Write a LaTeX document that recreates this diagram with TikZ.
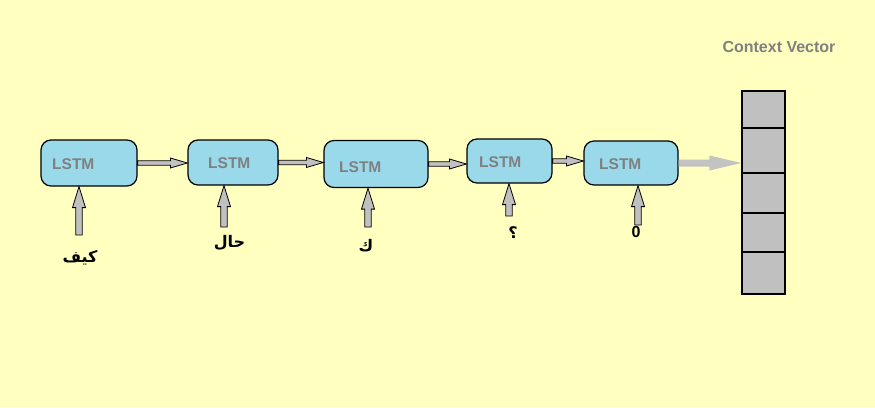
\documentclass[tikz,border=0pt]{standalone}
\usepackage{fontspec}
\setmainfont{Liberation Sans}
\newfontfamily\arabicfont[Script=Arabic]{DejaVu Sans}
\TeXXeTstate=1
\usetikzlibrary{calc}

\definecolor{bgyellow}{RGB}{255,255,192}
\definecolor{lstmblue}{RGB}{153,217,234}
\definecolor{lstmgray}{RGB}{128,128,128}
\definecolor{arrowgray}{RGB}{192,192,192}
\definecolor{ctxgray}{RGB}{195,195,195}

\tikzset{
  lstm/.style={draw=black, line width=1.2pt, fill=lstmblue, rounded corners=10pt, inner sep=0pt},
  lstmlabel/.style={text=lstmgray, font=\bfseries\fontsize{15.5}{18}\selectfont, inner sep=0pt},
  word/.style={font=\arabicfont\bfseries\fontsize{16}{20}\selectfont, inner sep=0pt},
  cell/.style={draw=black, line width=1.2pt, fill=arrowgray, minimum width=43pt, inner sep=0pt},
  arrshaft/.store in=\arrshaft, arrhead/.store in=\arrhead, arrlen/.store in=\arrlen,
  arrshaft=2, arrhead=5, arrlen=14,
  blockarrow/.style={draw=black, line width=0.8pt, fill=arrowgray, line join=miter,
    to path={
      let \p1=(\tikztostart), \p2=(\tikztotarget),
          \n1={atan2(\y2-\y1,\x2-\x1)}, \n2={\n1+90}, \n3={\n1-90}, \n4={\n1+180} in
      ($(\p1)+(\n2:\arrshaft pt)$)
      -- ($(\p2)+(\n4:\arrlen pt)+(\n2:\arrshaft pt)$)
      -- ($(\p2)+(\n4:\arrlen pt)+(\n2:\arrhead pt)$)
      -- (\p2)
      -- ($(\p2)+(\n4:\arrlen pt)+(\n3:\arrhead pt)$)
      -- ($(\p2)+(\n4:\arrlen pt)+(\n3:\arrshaft pt)$)
      -- ($(\p1)+(\n3:\arrshaft pt)$) -- cycle
    }},
  nextarrow/.style={blockarrow, arrshaft=2.2, arrhead=5, arrlen=17},
  inputarrow/.style={blockarrow, arrshaft=3.2, arrhead=6.5, arrlen=21},
  ctxarrow/.style={blockarrow, draw=none, fill=ctxgray, arrshaft=3.5, arrhead=7.5, arrlen=32}
}

\begin{document}
\begin{tikzpicture}[x=1pt, y=-1pt]

    \fill[bgyellow] (0,0) rectangle (875,407);

    \node[text=lstmgray, font=\bfseries\fontsize{16}{19}\selectfont] (ctx) at (779,47) {Context Vector};



    \node[lstm, minimum width=96pt, minimum height=46pt] (lstm1) at (89,163) {};
    \node[lstmlabel, anchor=west] (t1) at (52,164.5) {LSTM};

    \node[lstm, minimum width=90pt, minimum height=45pt] (lstm2) at (233,162.5) {};
    \node[lstmlabel, anchor=west] (t2) at (208,163) {LSTM};

    \node[lstm, minimum width=104pt, minimum height=47pt] (lstm3) at (376,164) {};
    \node[lstmlabel, anchor=west] (t3) at (339,167) {LSTM};

    \node[lstm, minimum width=85pt, minimum height=44pt] (lstm4) at (509.5,161) {};
    \node[lstmlabel, anchor=west] (t4) at (479,162) {LSTM};

    \node[lstm, minimum width=94pt, minimum height=44pt] (lstm5) at (631,163) {};
    \node[lstmlabel, anchor=west] (t5) at (599,164) {LSTM};



    \node[cell, minimum height=37pt] (c1) at (763.5,109.5) {};
    \node[cell, minimum height=45pt] (c2) at (763.5,150.5) {};
    \node[cell, minimum height=40pt] (c3) at (763.5,193) {};
    \node[cell, minimum height=39pt] (c4) at (763.5,232.5) {};
    \node[cell, minimum height=42pt] (c5) at (763.5,273) {};



    \draw[nextarrow] (lstm1.east) to (lstm2.west |- lstm1.east);
    \draw[nextarrow] (lstm2.east) to (lstm3.west |- lstm2.east);
    \draw[nextarrow] (lstm3.east) to (lstm4.west |- lstm3.east);
    \draw[nextarrow] (lstm4.east) to (lstm5.west |- lstm4.east);

    \draw[ctxarrow] (lstm5.east) to (c2.west |- lstm5.east);



    \coordinate (in1) at (79,235);
    \coordinate (in2) at (224,227);
    \coordinate (in3) at (368,227);
    \coordinate (in4) at (509,216);
    \coordinate (in5) at (638,225);

    \draw[inputarrow] (in1) to (in1 |- lstm1.south);
    \draw[inputarrow] (in2) to (in2 |- lstm2.south);
    \draw[inputarrow] (in3) to (in3 |- lstm3.south);
    \draw[inputarrow] (in4) to (in4 |- lstm4.south);
    \draw[inputarrow] (in5) to (in5 |- lstm5.south);



    \node[word] (w1) at (80,258) {\beginR كيف\endR};
    \node[word] (w2) at (229.5,243) {\beginR حال\endR};
    \node[word] (w3) at (366,246) {\beginR ك\endR};
    \node[word] (w4) at (513,233) {\beginR ؟\endR};
    \node[font=\bfseries\fontsize{16}{19}\selectfont, inner sep=0pt] (w5) at (636,232) {0};

  \end{tikzpicture}
\end{document}
